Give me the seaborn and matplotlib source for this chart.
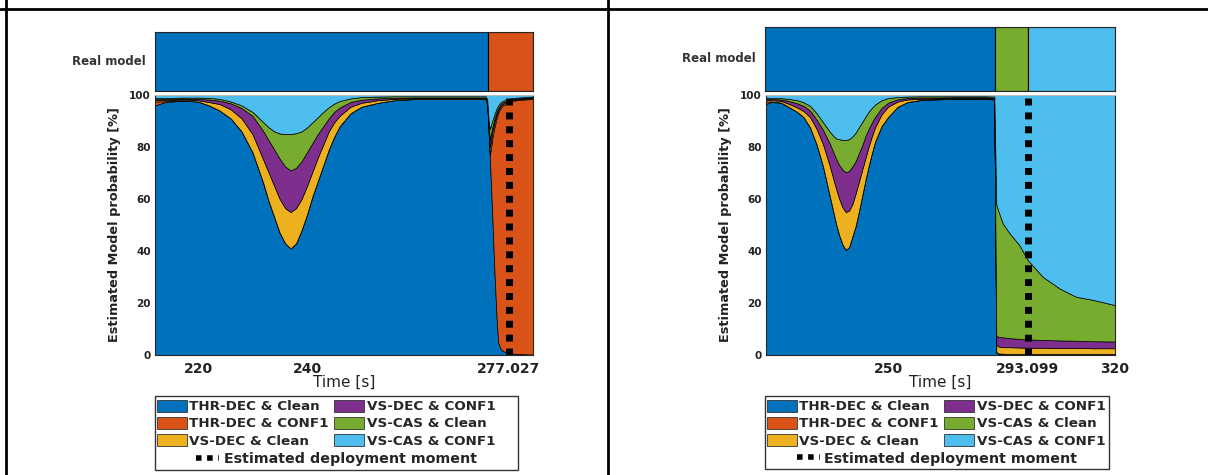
import numpy as np
import matplotlib
matplotlib.use("Agg")
import matplotlib.pyplot as plt
from matplotlib.patches import Patch, Rectangle
from matplotlib.lines import Line2D
import seaborn as sns

sns.set_theme(style="white")
plt.rcParams["font.family"] = ["DejaVu Sans"]

# ---------------------------------------------------------------- data
models = ["THR-DEC & Clean", "THR-DEC & CONF1", "VS-DEC & Clean",
          "VS-DEC & CONF1", "VS-CAS & Clean", "VS-CAS & CONF1"]
model_colors = sns.color_palette(["#0072BD", "#D95319", "#EDB120",
                                  "#7E2F8E", "#77AC30", "#4DBEEE"])

# Run A: cumulative model probability [%] (upper edge of each stacked band)
a_time = [212.1, 214, 217, 220, 222, 224, 226, 228, 230, 232, 233, 234, 235,
          236, 237, 238, 239, 240, 241, 242, 243, 244, 245, 246, 248, 250,
          253, 256, 260, 265, 270, 272.8, 273.1, 273.4, 273.6, 274, 274.4,
          274.8, 275.1, 275.5, 276, 277, 278, 280, 281.5]
a_thr_clean = [96.0, 97.3, 97.8, 97.5, 96, 94, 91, 86, 78, 66, 59, 53, 47,
               43, 41, 43, 48, 54, 61, 67, 73, 79, 84, 88, 93, 95.5,
               97, 98, 98.5, 98.5, 98.5, 98.5, 96.5, 84, 75, 55, 33,
               15, 5, 2.5, 1.5, 0.8, 0.5, 0.3, 0.2]
a_thr_conf1 = [97.5, 97.6, 97.9, 97.5, 96, 94, 91, 86, 78, 66, 59, 53, 47,
               43, 41, 43, 48, 54, 61, 67, 73, 79, 84, 88, 93, 95.5,
               97, 98, 98.5, 98.5, 98.5, 98.5, 96.6, 84.5, 77, 83, 87.5,
               91, 93, 94.8, 96, 97.2, 97.9, 98.3, 98.5]
a_vs_dec_clean = [98.0, 98.0, 98.3, 98, 97.3, 96.5, 94.5, 91, 85, 75, 70, 65,
                  60, 56.5, 55, 56.5, 60, 65, 70.5, 76, 81, 86, 89.5, 92,
                  95.5, 97, 98, 98.5, 98.8, 98.8, 98.8, 98.8, 97.0, 85.5,
                  80, 85.5, 89.3, 92.3, 94, 95.6, 96.6, 97.6, 98.2, 98.6, 98.8]
a_vs_dec_conf1 = [98.4, 98.4, 98.6, 98.5, 98.3, 97.8, 96.8, 95, 92, 86, 82.5,
                  79, 75.5, 72.5, 71, 72, 74.5, 78, 81.5, 85, 88, 91, 93.5,
                  95.2, 97.3, 98.2, 98.7, 98.9, 99, 99, 99, 99, 97.5, 87,
                  83, 87.5, 90.8, 93.5, 94.9, 96.3, 97.2, 98.0, 98.5, 98.9, 99.0]
a_vs_cas_clean = [98.8, 98.8, 99, 99, 98.9, 98.5, 97.5, 96, 93.5, 89.5, 87.5,
                  86, 85.2, 85, 85, 85.3, 86, 87.5, 89.5, 91.5, 93.5, 95.3,
                  96.7, 97.7, 98.7, 99.2, 99.4, 99.5, 99.5, 99.5, 99.5, 99.5,
                  98.2, 89, 87, 90, 92.5, 94.8, 96, 97.1, 97.8, 98.5, 98.9,
                  99.2, 99.4]
a_real_bounds = [212.1, 273.2, 281.5]
a_real_models = [0, 1]
a_deploy = 277.027
a_xticks = [220, 240, 277.027]
a_xticklabels = ["220", "240", "277.027"]

# Run B: cumulative model probability [%]
b_time = [212.4, 214, 217, 220, 222, 224, 226, 228, 230, 232, 233, 234, 235,
          236, 237, 238, 239, 240, 241, 242, 243, 244, 245, 246, 248, 250,
          253, 256, 260, 265, 270, 275, 280, 282.8, 283.4, 284, 285.4, 287.5,
          290.5, 293.1, 297.7, 302.9, 308, 313.2, 320]
b_thr_clean = [96.5, 97.3, 97, 95, 93.5, 91.5, 87.5, 81, 72.5, 61.5, 56, 50.5,
               46, 42.5, 40.5, 41.5, 45.5, 49.5, 55, 61, 67, 72.5, 77.5, 82,
               88, 91.5, 95.5, 97.3, 98, 98.3, 98.5, 98.5, 98.5, 98.3, 1.0,
               0.4, 0.3, 0.2, 0.2, 0.2, 0.2, 0.2, 0.2, 0.2, 0.2]
b_thr_conf1 = [97.5, 97.5, 97.1, 95, 93.5, 91.5, 87.5, 81, 72.5, 61.5, 56, 50.5,
               46, 42.5, 40.5, 41.5, 45.5, 49.5, 55, 61, 67, 72.5, 77.5, 82,
               88, 91.5, 95.5, 97.3, 98.1, 98.4, 98.6, 98.6, 98.6, 98.4, 1.2,
               0.6, 0.5, 0.4, 0.4, 0.4, 0.4, 0.4, 0.4, 0.4, 0.4]
b_vs_dec_clean = [98, 98, 97.8, 96.3, 95.2, 93.8, 91.5, 87, 81, 73, 68.5, 64,
                  60, 56.8, 55, 55.5, 58, 62, 66.5, 71, 75.5, 80, 84, 87.5,
                  92.5, 95.5, 97.5, 98.3, 98.5, 98.7, 98.8, 98.8, 98.8, 98.6,
                  4.0, 3.3, 3.0, 3.0, 2.9, 2.8, 2.8, 2.7, 2.7, 2.6, 2.6]
b_vs_dec_conf1 = [98.4, 98.4, 98.3, 97.5, 96.8, 95.8, 94, 90.5, 86.5, 81.5,
                  78.5, 75.5, 73, 71.3, 70.3, 70.8, 72.5, 74.5, 77.5, 80.5, 84,
                  86.8, 89.3, 91.5, 95, 97, 98.4, 98.8, 99, 99, 99.1, 99.1,
                  99.1, 98.9, 7.5, 7.0, 6.8, 6.5, 6.2, 6.0, 5.8, 5.6, 5.5,
                  5.3, 5.2]
b_vs_cas_clean = [98.8, 98.8, 98.8, 98.4, 98, 97.2, 95.8, 93, 89.5, 86, 84.5,
                  83.3, 83, 82.7, 82.7, 83, 84, 85.5, 87.5, 89.5, 91.5, 93.5,
                  95, 96.3, 98, 98.8, 99.2, 99.4, 99.5, 99.5, 99.5, 99.5, 99.5,
                  99.4, 58, 55.5, 50.6, 46.8, 42.3, 36.5, 30.1, 25.6, 22.4,
                  21.2, 19.2]
b_real_bounds = [212.4, 283.0, 293.1, 320]
b_real_models = [0, 4, 5]
b_deploy = 293.099
b_xticks = [250, 293.099, 320]
b_xticklabels = ["250", "293.099", "320"]

# ---------------------------------------------------------------- layout
W, H = 1208, 475
fig = plt.figure(figsize=(W / 100, H / 100), dpi=100)
fig.patch.set_facecolor("white")


def frac(x0, y0, x1, y1):
    return [x0 / W, 1 - y1 / H, (x1 - x0) / W, (y1 - y0) / H]


SPINE = "#262626"
bold = dict(fontweight="bold")


def draw_panel(strip_box, main_box, time, cum_edges, real_bounds, real_models,
               deploy, xticks, xticklabels, legend_box):
    xlim = (time[0], time[-1])

    # real model strip
    ax_s = fig.add_axes(frac(*strip_box))
    starts = np.array(real_bounds[:-1])
    widths = np.diff(real_bounds)
    ax_s.barh(0, widths, left=starts, height=1.0,
              color=[model_colors[m] for m in real_models],
              edgecolor="black", linewidth=0.8)
    ax_s.set_xlim(*xlim)
    ax_s.set_ylim(-0.5, 0.5)
    ax_s.set_xticks(np.arange(220, xlim[1], 20))
    ax_s.set_xticklabels([])
    ax_s.set_yticks([-0.17, 0.17])
    ax_s.set_yticklabels([])
    ax_s.tick_params(direction="in", length=3, width=0.6, color=SPINE,
                     top=True, bottom=True, left=True, right=True)
    for sp in ax_s.spines.values():
        sp.set_color(SPINE)
        sp.set_linewidth(0.8)
    ax_s.set_ylabel("Real model", rotation=0, ha="right", va="center",
                    fontsize=8.5, labelpad=3, color="#333333", **bold)

    # stacked probabilities
    ax = fig.add_axes(frac(*main_box))
    t = np.array(time)
    edges = np.vstack([np.zeros_like(t)] + [np.array(e) for e in cum_edges]
                      + [np.full_like(t, 100.0)])
    bands = np.diff(edges, axis=0)
    ax.stackplot(t, bands, colors=model_colors, edgecolor="black",
                 linewidth=0.5)
    ax.axvline(deploy, color="black", linestyle=(0, (1, 1)), linewidth=5,
               dash_capstyle="butt")
    ax.set_xlim(*xlim)
    ax.set_ylim(0, 100)
    ax.set_yticks(np.arange(0, 101, 20))
    ax.set_xticks(xticks)
    ax.set_xticklabels(xticklabels)
    ax.tick_params(axis="x", direction="in", length=3, width=0.6, pad=5,
                   labelsize=10, color=SPINE)
    ax.tick_params(axis="y", direction="in", length=3, width=0.6, pad=3,
                   labelsize=7.5, color=SPINE)
    for lab in ax.get_xticklabels() + ax.get_yticklabels():
        lab.set_fontweight("bold")
        lab.set_color("#222222")
    for name, sp in ax.spines.items():
        sp.set_color("#bbbbbb" if name == "top" else SPINE)
        sp.set_linewidth(0.8)
    ax.set_ylabel("Estimated Model probability [%]", fontsize=9.3,
                  labelpad=6, color="#222222", **bold)
    ax.set_xlabel("Time [s]", fontsize=11, labelpad=-1, color="#222222")

    # legend
    lx0, ly0, lx1, ly1 = legend_box
    fig.add_artist(Rectangle((lx0 / W, 1 - ly1 / H), (lx1 - lx0) / W,
                             (ly1 - ly0) / H, transform=fig.transFigure,
                             facecolor="white", edgecolor="#333333",
                             linewidth=1.0))
    handles = [Patch(facecolor=c, edgecolor="#333333", linewidth=0.6)
               for c in model_colors]
    fig.legend(handles, models, ncol=2, loc="upper left",
               bbox_to_anchor=((lx0 + 2) / W, 1 - (ly0 + 3.5) / H),
               frameon=False, borderpad=0, borderaxespad=0,
               handlelength=2.2, handleheight=1.0, handletextpad=0.2,
               columnspacing=0.4, labelspacing=0.27,
               prop=dict(size=9.7, weight="bold"))
    dot = Line2D([], [], color="black", linestyle=(0, (1, 1)), linewidth=4,
                 dash_capstyle="butt")
    fig.legend([dot], ["Estimated deployment moment"], loc="center",
               bbox_to_anchor=((lx0 + lx1) / 2 / W, 1 - (ly1 - 10.5) / H),
               frameon=False, borderpad=0, borderaxespad=0,
               handlelength=1.6, handletextpad=0.3,
               prop=dict(size=10.3, weight="bold"))


draw_panel((155, 32, 533, 90.5), (155, 95, 533, 355), a_time,
           [a_thr_clean, a_thr_conf1, a_vs_dec_clean, a_vs_dec_conf1,
            a_vs_cas_clean],
           a_real_bounds, a_real_models, a_deploy, a_xticks, a_xticklabels,
           (155, 396, 518, 470))
draw_panel((765, 27, 1115, 90.5), (766, 95, 1115, 355), b_time,
           [b_thr_clean, b_thr_conf1, b_vs_dec_clean, b_vs_dec_conf1,
            b_vs_cas_clean],
           b_real_bounds, b_real_models, b_deploy, b_xticks, b_xticklabels,
           (765, 396, 1109, 469))

# table rules around the two panels
fig.add_artist(Line2D([0, 1], [1 - 8.5 / H] * 2, transform=fig.transFigure,
                      color="black", linewidth=2))
for xv in (6, 607.5):
    fig.add_artist(Line2D([xv / W] * 2, [0, 1], transform=fig.transFigure,
                          color="black", linewidth=2))

fig.savefig("out.png", dpi=100, facecolor="white")
